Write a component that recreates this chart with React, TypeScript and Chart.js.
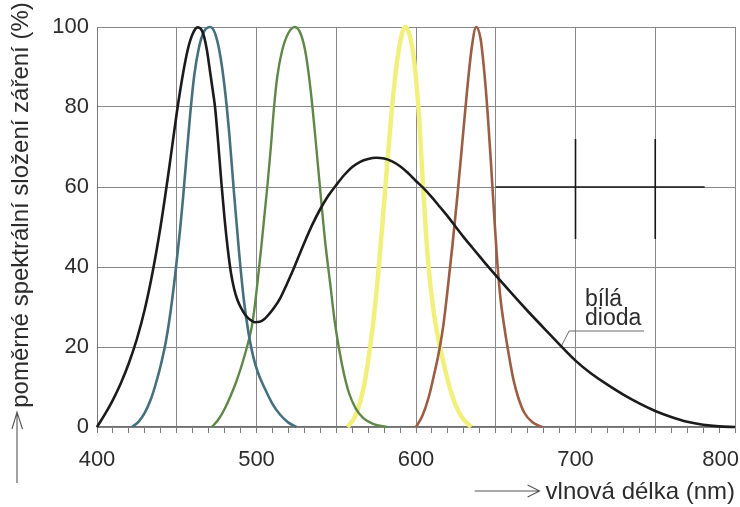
import React, { useEffect, useRef } from 'react';
import { Chart, registerables } from 'chart.js';

Chart.register(...registerables);

// Wavelength axis (nm) and relative spectral intensity axis (%)
const X_MIN = 400;
const X_MAX = 800;
const X_MINOR_TICKS = [
  400, 410, 420, 430, 440, 450, 460, 470, 480, 490, 500, 510, 520, 530, 540, 550, 560, 570, 580, 590,
  600, 610, 620, 630, 640, 650, 660, 670, 680, 690, 700, 710, 720, 730, 740, 750, 760, 770, 780, 790, 800,
];
const X_LABELED = [400, 500, 600, 700, 800];
const X_GRID_STEP = 50;
const Y_MIN = 0;
const Y_MAX = 100;
const Y_STEP = 20;

// White LED (blue chip + phosphor)
const whiteNm = [
  400, 405, 410, 415, 420, 425, 430, 435, 440, 445, 450, 454, 457, 460, 463, 465, 467, 469, 471, 473,
  474, 476, 478, 480, 482, 484, 486, 488, 490, 493, 496, 499, 502, 505, 508, 511, 515, 519, 523, 527,
  531, 535, 540, 545, 550, 555, 560, 565, 570, 575, 580, 585, 590, 595, 600, 605, 610, 615, 620, 625,
  630, 635, 640, 645, 650, 660, 670, 680, 690, 700, 710, 720, 730, 740, 750, 760, 770, 780, 790, 800,
];
const whiteVal = [
  0, 3.2, 6.8, 11, 16, 22, 29.5, 39, 50.5, 64, 78.5, 88.5, 94.5, 98.3, 99.9, 99.6, 97.8, 94, 88.5, 83,
  80, 71, 61, 52, 44.5, 38.5, 34.5, 31.8, 30, 28, 26.8, 26.2, 26.3, 27, 28.3, 29.8, 32.3, 35.7, 39.3, 43.2,
  47, 50.6, 54.5, 57.8, 60.5, 63, 65, 66.3, 67, 67.3, 67.1, 66.4, 65.2, 63.5, 61.5, 59.6, 57.4, 55, 52.6, 50,
  47.4, 45, 42.6, 40.2, 37.9, 33.4, 29, 24.8, 20.6, 16.6, 13.3, 10.6, 8.1, 5.9, 4, 2.5, 1.3, 0.55, 0.15, 0,
];

// Blue LED
const blueNm = [
  422, 426, 430, 434, 437, 440, 443, 446, 449, 452, 454, 456, 458.5, 461, 464, 467, 471, 474, 477, 480,
  483, 486, 489, 492, 495, 498, 501, 505, 510, 515, 520, 525,
];
const blueVal = [
  0, 1.3, 3.6, 7.2, 11, 15.5, 21, 28.5, 38, 49, 57.5, 67, 78.5, 88, 95, 98.8, 100, 98.4, 93.5, 85,
  73, 58, 44, 32, 23.5, 17.5, 13.5, 9.8, 5.8, 3, 1.1, 0,
];

// Green LED
const greenNm = [
  472, 476, 480, 484, 487, 490, 493, 495, 497, 499, 501, 503, 505, 507, 509, 511, 513, 516, 520, 524,
  528, 531, 534, 537, 540, 543, 546, 549, 552, 555, 558, 562, 567, 573, 582,
];
const greenVal = [
  0, 1.8, 4.5, 8, 11, 14.5, 18.5, 21.5, 25, 30.5, 37.5, 45, 53, 61, 70, 80, 87.5, 94, 98.5, 100,
  98, 93, 84, 72, 59, 46.5, 36.5, 26.5, 19, 13, 8.5, 4.8, 2.2, 0.8, 0,
];

// Yellow LED
const yellowNm = [
  557, 561, 564, 567, 570, 573, 576, 579, 582, 585, 588, 591, 593, 596, 599, 602, 604, 606, 608, 611,
  614, 617, 621, 625, 629, 634.6,
];
const yellowVal = [
  0, 2, 5, 9.5, 16.5, 25.5, 37, 51, 66, 80, 91, 98, 100, 98, 91, 77, 63, 50, 39.5, 29,
  22, 16.5, 10, 5.3, 2.3, 0,
];

// Red LED
const redNm = [
  600, 604, 608, 611, 614, 617, 620, 623, 626, 629, 632, 635, 637.7, 640.5, 643, 645, 647, 649, 651, 653,
  655, 658, 661, 664, 668, 673, 679,
];
const redVal = [
  0, 2.8, 7.5, 12.5, 18, 25, 35, 46, 58, 71, 84, 95, 100, 97, 88, 78, 66, 53, 41, 32,
  26, 18.5, 12, 7.5, 3.5, 1.2, 0,
];

// "bílá dioda" callout, in data units
const CALLOUT_LINES = ['bílá', 'dioda'];
const CALLOUT_NM = 706;
const CALLOUT_BASELINES = [30.3, 25.6];
const LEADER_NM = [691.5, 696, 743];
const LEADER_VAL = [20.5, 24, 24];

// Dark pen strokes over the grid, in data units
const PEN_H_VAL = 60;
const PEN_H_NM = [650, 781];
const PEN_V_NM = [700, 750];
const PEN_V_VAL = [47, 72];

const Y_TITLE = 'poměrné spektrální složení záření (%)';
const X_TITLE = 'vlnová délka (nm)';

const FONT = '"Liberation Sans", Arial, Helvetica, sans-serif';
const TEXT = '#2c2c2c';
const GRID = '#888888';

const zip = (xs: number[], ys: number[]) => xs.map((x, i) => ({ x, y: ys[i] }));

const overlay = {
  id: 'overlay',
  beforeDatasetsDraw(chart: any) {
    const { ctx, scales } = chart;
    const xs = scales.x;
    const ys = scales.y;
    ctx.save();
    ctx.strokeStyle = '#161616';
    ctx.lineWidth = 1.6;
    ctx.beginPath();
    ctx.moveTo(xs.getPixelForValue(PEN_H_NM[0]), ys.getPixelForValue(PEN_H_VAL));
    ctx.lineTo(xs.getPixelForValue(PEN_H_NM[1]), ys.getPixelForValue(PEN_H_VAL));
    for (const nm of PEN_V_NM) {
      ctx.moveTo(xs.getPixelForValue(nm), ys.getPixelForValue(PEN_V_VAL[0]));
      ctx.lineTo(xs.getPixelForValue(nm), ys.getPixelForValue(PEN_V_VAL[1]));
    }
    ctx.stroke();
    ctx.restore();
  },
  afterDatasetsDraw(chart: any) {
    const { ctx, scales } = chart;
    const xs = scales.x;
    const ys = scales.y;
    ctx.save();
    // leader line
    ctx.strokeStyle = '#6a6a6a';
    ctx.lineWidth = 1;
    ctx.beginPath();
    LEADER_NM.forEach((nm, i) => {
      const px = xs.getPixelForValue(nm);
      const py = ys.getPixelForValue(LEADER_VAL[i]);
      if (i === 0) ctx.moveTo(px, py);
      else ctx.lineTo(px, py);
    });
    ctx.stroke();
    // label
    ctx.fillStyle = TEXT;
    ctx.font = `23px ${FONT}`;
    ctx.textAlign = 'left';
    ctx.textBaseline = 'alphabetic';
    CALLOUT_LINES.forEach((line, i) => {
      ctx.fillText(line, xs.getPixelForValue(CALLOUT_NM), ys.getPixelForValue(CALLOUT_BASELINES[i]));
    });
    ctx.restore();
  },
  afterDraw(chart: any) {
    const { ctx, chartArea, width, scales } = chart;
    ctx.save();
    ctx.fillStyle = TEXT;
    ctx.strokeStyle = '#555';
    ctx.lineWidth = 1.1;

    // wavelength tick labels, kept inside the canvas at the right edge
    ctx.font = `22px ${FONT}`;
    ctx.textAlign = 'center';
    ctx.textBaseline = 'middle';
    for (const v of X_LABELED) {
      const text = String(v);
      const half = ctx.measureText(text).width / 2;
      const cx = Math.min(scales.x.getPixelForValue(v), width - 1 - half);
      ctx.fillText(text, cx, chartArea.bottom + 33);
    }

    ctx.font = `24px ${FONT}`;
    // y title, rotated, with upward arrow below it
    ctx.save();
    ctx.translate(21, 205);
    ctx.rotate(-Math.PI / 2);
    ctx.textAlign = 'center';
    ctx.textBaseline = 'middle';
    ctx.fillText(Y_TITLE, 0, 0);
    ctx.restore();
    ctx.beginPath();
    ctx.moveTo(17, 483);
    ctx.lineTo(17, 412);
    ctx.moveTo(12, 429);
    ctx.lineTo(17, 412);
    ctx.lineTo(22.5, 429);
    ctx.stroke();

    // x title with rightward arrow in front of it
    ctx.textAlign = 'right';
    ctx.textBaseline = 'alphabetic';
    ctx.fillText(X_TITLE, chartArea.right, 499);
    const start = chartArea.right - ctx.measureText(X_TITLE).width;
    const tip = start - 6;
    ctx.beginPath();
    ctx.moveTo(tip - 65, 491);
    ctx.lineTo(tip, 491);
    ctx.moveTo(tip - 12, 485);
    ctx.lineTo(tip, 491);
    ctx.lineTo(tip - 12, 497);
    ctx.stroke();
    ctx.restore();
  },
};

export default function App() {
  const ref = useRef<HTMLCanvasElement | null>(null);

  useEffect(() => {
    document.body.style.margin = '0';
    const canvas = ref.current;
    if (!canvas) return;

    const line = (data: { x: number; y: number }[], color: string, width: number) => ({
      data,
      borderColor: color,
      borderWidth: width,
      pointRadius: 0,
      fill: false,
      cubicInterpolationMode: 'monotone' as const,
      clip: 8,
    });

    const chart = new Chart(canvas, {
      type: 'line',
      data: {
        datasets: [
          { label: 'bílá dioda', ...line(zip(whiteNm, whiteVal), '#1b1b1b', 2.6) },
          { label: 'modrá', ...line(zip(blueNm, blueVal), '#46707e', 2.6) },
          { label: 'zelená', ...line(zip(greenNm, greenVal), '#5f8748', 2.4) },
          { label: 'červená', ...line(zip(redNm, redVal), '#9b5d43', 2.6) },
          { label: 'žlutá', ...line(zip(yellowNm, yellowVal), '#f2f07c', 4.5) },
        ],
      },
      options: {
        responsive: false,
        animation: false,
        devicePixelRatio: 1,
        layout: { padding: { top: 27, right: 5, left: 0, bottom: 0 } },
        plugins: {
          legend: { display: false },
          tooltip: { enabled: false },
        },
        scales: {
          x: {
            type: 'linear',
            min: X_MIN,
            max: X_MAX,
            afterBuildTicks: (scale: any) => {
              scale.ticks = X_MINOR_TICKS.map((value) => ({ value }));
            },
            afterFit: (scale: any) => {
              scale.height = 80;
              scale.paddingLeft = 0;
              scale.paddingRight = 0;
            },
            ticks: {
              autoSkip: false,
              maxRotation: 0,
              padding: 15,
              color: 'rgba(0,0,0,0)',
              font: { family: FONT, size: 22 },
              callback: () => '',
            },
            grid: {
              color: (c: any) => (c.tick && c.tick.value % X_GRID_STEP === 0 ? GRID : 'rgba(0,0,0,0)'),
              tickColor: '#7a7a7a',
              tickLength: 6,
              lineWidth: 1,
            },
            border: { display: true, color: '#6e6e6e', width: 1.3 },
          },
          y: {
            min: Y_MIN,
            max: Y_MAX,
            afterFit: (scale: any) => {
              scale.width = 97;
              scale.paddingTop = 0;
              scale.paddingBottom = 0;
            },
            ticks: {
              stepSize: Y_STEP,
              padding: 8,
              color: TEXT,
              font: { family: FONT, size: 22 },
            },
            grid: { color: GRID, drawTicks: false, lineWidth: 1 },
            border: { display: true, color: '#7a7a7a', width: 1 },
          },
        },
      },
      plugins: [overlay],
    });

    return () => chart.destroy();
  }, []);

  return <canvas ref={ref} width={740} height={507} style={{ display: 'block' }} />;
}
